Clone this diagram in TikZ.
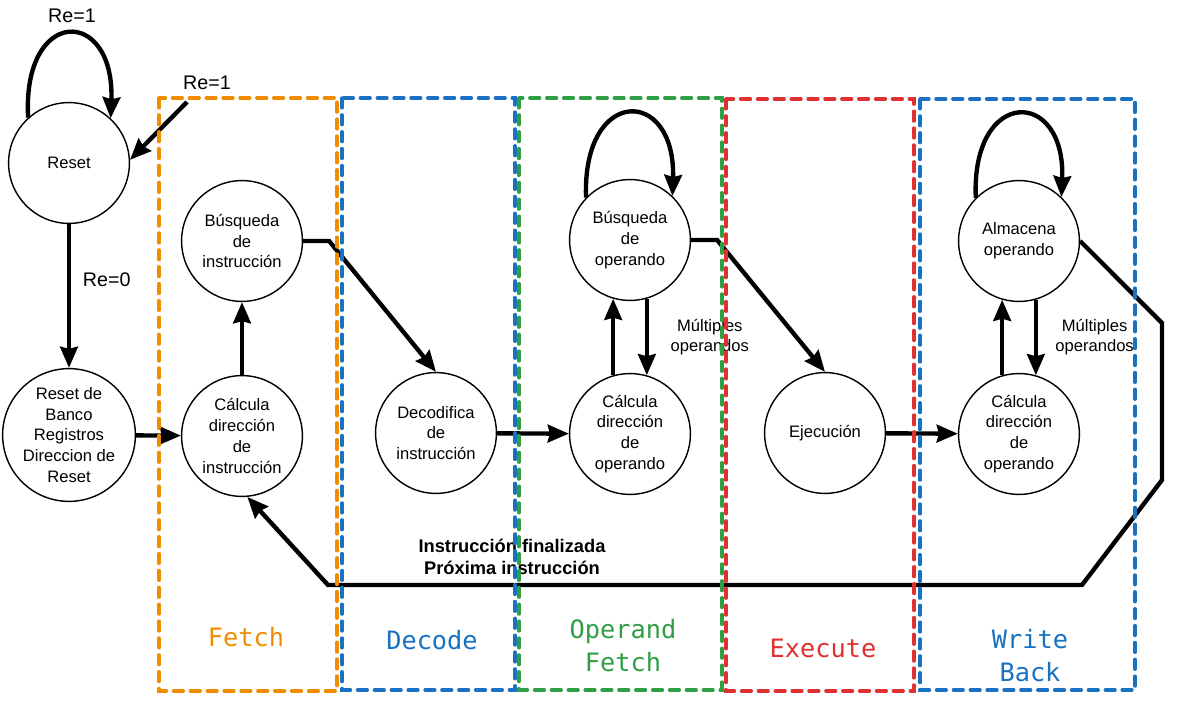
\documentclass[tikz,border=0pt]{standalone}
\usepackage{fontspec}
\setmainfont{Liberation Sans}
\newfontfamily\phasefont{DejaVu Sans Mono}
\usetikzlibrary{arrows.meta}
\definecolor{phaseOrange}{HTML}{F08C00}
\definecolor{phaseBlue}{HTML}{1971C2}
\definecolor{phaseGreen}{HTML}{2F9E44}
\definecolor{phaseRed}{HTML}{E03131}

\begin{document}
\begin{tikzpicture}[x=0.025cm, y=-0.025cm,
        state/.style={circle, draw, line width=1pt, minimum size=3.02cm, inner sep=0pt, align=center,
            font=\fontsize{11.8}{14.8}\selectfont},
        flow/.style={line width=3.1pt, -{Stealth[length=15pt,width=12.5pt,inset=1.5pt]}},
        edgelabel/.style={font=\fontsize{14}{17}\selectfont},
        multilabel/.style={align=center, font=\fontsize{11.8}{14.2}\selectfont},
        phasebox/.style={line width=2.4pt, dash pattern=on 7pt off 5pt, line cap=round},
        phaselabel/.style={align=center, font=\phasefont\fontsize{18}{23.5}\selectfont}]
            \useasboundingbox (0,0) rectangle (1180,709);
            \node[state] (reset) at (69,163) {Reset};
            \node[state] (resetBanco) at (69,435) {Reset de\\Banco\\Registros\\Direccion de\\Reset};
            \node[state] (calcInstr) at (242,436) {Cálcula\\dirección\\de\\instrucción};
            \node[state] (buscInstr) at (242,241) {Búsqueda\\de\\instrucción};
            \node[state] (decod) at (436,433) {Decodifica\\de\\instrucción};
            \node[state] (buscOp) at (630,240) {Búsqueda\\de\\operando};
            \node[state] (calcOp) at (630,434) {Cálcula\\dirección\\de\\operando};
            \node[state] (ejec) at (825,433) {Ejecución};
            \node[state] (almac) at (1019,241) {Almacena\\operando};
            \node[state] (calcOpWb) at (1019,434) {Cálcula\\dirección\\de\\operando};
            \coordinate (reEntry) at (187,102);

            \draw[flow] (reset.132) .. controls (22,6) and (115,6) .. (reset.47);
            \node[edgelabel] (reLoop) at (72,16) {Re=1};
            \draw[flow] (reEntry) -- (reset.3);
            \node[edgelabel] (reIn) at (207,83) {Re=1};
            \draw[flow] (reset) -- node[pos=0.39, right=5pt, edgelabel] {Re=0} (resetBanco);
            \draw[flow] (resetBanco) -- (calcInstr);
            \draw[flow] (calcInstr) -- (buscInstr);
            \draw[flow] (buscInstr.east) -- ++(26,0) -- (decod.north);
            \draw[flow] (decod) -- (calcOp);
            \draw[flow] (calcOp.106) -- (buscOp.254);
            \draw[flow] (buscOp.-74) -- node[midway, right=12pt, multilabel] {Múltiples\\operandos} (calcOp.74);
            \draw[flow] (buscOp.136) .. controls (582,86) and (676,86) .. (buscOp.46);
            \draw[flow] (buscOp.east) -- ++(26,0) -- (ejec.north);
            \draw[flow] (ejec) -- (calcOpWb);
            \draw[flow] (calcOpWb.106) -- (almac.254);
            \draw[flow] (almac.-74) -- node[midway, right=9pt, multilabel] {Múltiples\\operandos} (calcOpWb.74);
            \draw[flow] (almac.135) .. controls (971,87) and (1066,87) .. (almac.46);
            \draw[flow] (almac.east) -- (1162,323) -- (1162,480) -- (1082,585) -- (328,585) -- (calcInstr.-85);
            \node[align=center, font=\bfseries\fontsize{13}{15.6}\selectfont] (nextInstr) at (512,557) {Instrucción finalizada\\Próxima instrucción};

            \draw[phasebox, phaseOrange] (159,98) rectangle (337,691);
            \draw[phasebox, phaseBlue] (342,98) rectangle (515,690);
            \draw[phasebox, phaseGreen] (519,98) rectangle (722,690);
            \draw[phasebox, phaseRed] (726,99) rectangle (914,691);
            \draw[phasebox, phaseBlue] (920,99) rectangle (1135,690);
            \node[phaselabel, text=phaseOrange] (fetchLbl) at (246,637) {Fetch};
            \node[phaselabel, text=phaseBlue] (decodeLbl) at (432,640) {Decode};
            \node[phaselabel, text=phaseGreen] (opFetchLbl) at (623,646) {Operand\\Fetch};
            \node[phaselabel, text=phaseRed] (executeLbl) at (823,648) {Execute};
            \node[phaselabel, text=phaseBlue] (writeBackLbl) at (1030,656) {Write\\Back};
        \end{tikzpicture}
\end{document}
